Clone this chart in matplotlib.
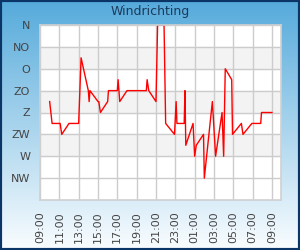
import datetime as dt

import matplotlib
matplotlib.use('Agg')
import matplotlib.pyplot as plt
import matplotlib.dates as mdates
import numpy as np
from matplotlib.patches import Rectangle

# wind direction in degrees (0 = N, top of the axis)
times = ['10:00', '10:15', '11:05', '11:15', '12:00', '13:00', '13:15', '14:00',
         '14:05', '14:10', '15:00', '15:05', '15:15', '16:00', '16:05', '17:00',
         '17:05', '17:15', '18:00', '20:00', '20:05', '20:15', '21:00', '21:10',
         '21:50', '22:00', '22:55', '23:05', '23:10', '23:55', '00:00', '00:05',
         '00:50', '01:00', '01:10', '01:55', '02:00', '02:50', '03:10', '03:50',
         '04:00', '04:10', '04:50', '04:55', '05:50', '06:00', '06:55', '07:50',
         '07:55', '09:00']
direction = [157.5, 202.5, 202.5, 225, 202.5, 202.5, 67.5, 135,
             157.5, 135, 157.5, 157.5, 180, 157.5, 135, 135,
             112.5, 157.5, 135, 135, 112.5, 135, 157.5, 0,
             0, 202.5, 225, 157.5, 202.5, 202.5, 135, 247.5,
             202.5, 270, 247.5, 225, 315, 157.5, 270, 180,
             270, 90, 112.5, 225, 202.5, 225, 202.5, 202.5,
             180, 180]

tick_names = ['N', 'NO', 'O', 'ZO', 'Z', 'ZW', 'W', 'NW']
tick_deg = [0, 45, 90, 135, 180, 225, 270, 315]

start = dt.datetime(2020, 1, 1, 9, 0)
stamps = []
day = 0
prev = None
for t in times:
    h, m = map(int, t.split(':'))
    cur = dt.datetime(2020, 1, 1, h, m) + dt.timedelta(days=day)
    if prev is not None and cur < prev:
        day += 1
        cur += dt.timedelta(days=1)
    stamps.append(cur)
    prev = cur

fig = plt.figure(figsize=(3, 2.5), dpi=100)

# background gradient
bg = fig.add_axes([0, 0, 1, 1], zorder=-10)
grad = np.linspace(0, 1, 256).reshape(-1, 1)
top = np.array([0x55, 0xaa, 0xdb]) / 255
bot = np.array([0xfa, 0xfd, 0xff]) / 255
img = top + (bot - top) * grad[..., None]
bg.imshow(img, aspect='auto', extent=[0, 1, 0, 1])
bg.axis('off')

ax = fig.add_axes([40 / 300, 50 / 250, 241 / 300, 175 / 250])
ax.set_facecolor('white')
for i in range(1, 8, 2):
    if tick_deg[i] + 45 <= 270:
        ax.axhspan(tick_deg[i], tick_deg[i] + 45, color='#f3f3f3', zorder=0)

ax.plot(stamps, direction, color='red', linewidth=1, zorder=2)

ax.set_ylim(360, 0)
ax.set_yticks(tick_deg)
ax.set_yticklabels(tick_names)
ax.set_xlim(start, start + dt.timedelta(hours=24, minutes=56))
ax.xaxis.set_major_locator(mdates.HourLocator(byhour=range(1, 24, 2)))
ax.xaxis.set_major_formatter(mdates.DateFormatter('%H:%M'))
plt.setp(ax.get_xticklabels(), rotation=90)
ax.tick_params(length=0, labelsize=8, colors='#444444')
ax.tick_params(axis='y', pad=7)
ax.tick_params(axis='x', pad=8)
ax.grid(True, color='#cccccc', linewidth=1, zorder=1)
ax.set_axisbelow(True)
for s in ax.spines.values():
    s.set_color('#d0d0d0')
    s.set_linewidth(1.2)

fig.text(0.5, 0.952, 'Windrichting', ha='center', va='center',
         fontsize=9, color='#1b3a5c')

fig.patches.append(Rectangle((0, 0), 1, 1, transform=fig.transFigure,
                             fill=False, edgecolor='#0b3566', linewidth=3))

fig.savefig('out.png', dpi=100)
